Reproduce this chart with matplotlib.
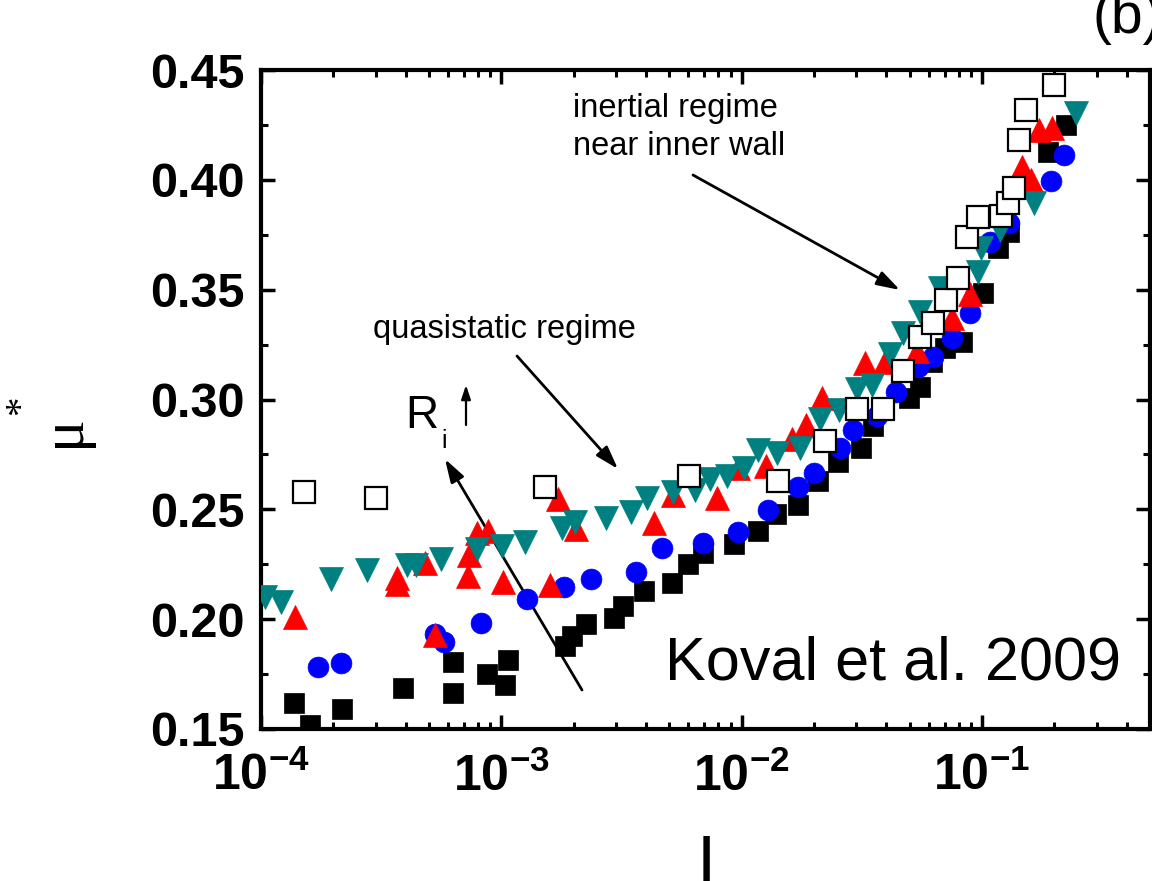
import numpy as np
import matplotlib
matplotlib.use("Agg")
import matplotlib.pyplot as plt
from matplotlib import ticker

plt.rcParams['font.family'] = ['Liberation Sans', 'DejaVu Sans']
plt.rcParams['mathtext.fontset'] = 'custom'
plt.rcParams['mathtext.rm'] = 'Liberation Sans'
plt.rcParams['mathtext.bf'] = 'Liberation Sans:bold'
plt.rcParams['mathtext.it'] = 'Liberation Sans:italic'

# ---------------- data ----------------
black_I = [1.371e-4, 1.60e-4, 2.17e-4, 3.89e-4, 6.28e-4, 6.28e-4, 8.70e-4, 1.034e-3, 1.064e-3,
           1.837e-3, 1.964e-3, 2.246e-3, 2.937e-3, 3.201e-3, 3.913e-3, 5.116e-3, 5.965e-3,
           6.883e-3, 9.26e-3, 1.1655e-2, 1.385e-2, 1.709e-2, 2.070e-2, 2.507e-2, 3.125e-2,
           3.505e-2, 3.857e-2, 4.949e-2, 5.497e-2, 6.166e-2, 6.985e-2, 8.218e-2, 0.1005,
           0.1160, 0.1301, 0.1873, 0.2246]
black_mu = [0.1619, 0.1518, 0.1591, 0.1687, 0.1805, 0.1664, 0.1751, 0.1701, 0.1815,
            0.1878, 0.1924, 0.1979, 0.2006, 0.2061, 0.2129, 0.2166, 0.2252,
            0.2302, 0.2343, 0.2403, 0.2480, 0.2521, 0.2631, 0.2717, 0.2777,
            0.2881, 0.2950, 0.3009, 0.3055, 0.3169, 0.3233, 0.3260, 0.3483,
            0.3688, 0.3761, 0.4126, 0.4249]

blue_I = [1.726e-4, 2.150e-4, 5.29e-4, 5.77e-4, 8.22e-4, 1.276e-3, 1.819e-3, 2.356e-3,
          3.625e-3, 4.650e-3, 6.883e-3, 9.62e-3, 1.2827e-2, 1.709e-2, 1.993e-2, 2.556e-2,
          2.894e-2, 3.641e-2, 4.369e-2, 5.394e-2, 6.225e-2, 7.469e-2, 8.872e-2, 0.1075,
          0.1301, 0.1945, 0.2203]
blue_mu = [0.1783, 0.1801, 0.1933, 0.1897, 0.1983, 0.2093, 0.2147, 0.2184,
           0.2216, 0.2325, 0.2348, 0.2398, 0.2498, 0.2603, 0.2667, 0.2781,
           0.2859, 0.2923, 0.3036, 0.3146, 0.3192, 0.3278, 0.3392, 0.3716,
           0.3802, 0.3994, 0.4113]

red_I = [1.385e-4, 3.678e-4, 3.678e-4, 4.808e-4, 5.29e-4, 7.26e-4, 7.33e-4, 7.91e-4,
         8.79e-4, 1.0144e-3, 1.591e-3, 1.718e-3, 2.041e-3, 4.306e-3, 5.166e-3, 7.870e-3,
         9.62e-3, 1.2585e-2, 1.614e-2, 1.846e-2, 2.151e-2, 3.247e-2, 3.932e-2, 5.343e-2,
         7.469e-2, 8.872e-2, 0.1460, 0.1606, 0.1734, 0.1964]
red_mu = [0.2011, 0.2188, 0.2161, 0.2257, 0.1929, 0.2198, 0.2293, 0.2394,
          0.2403, 0.2170, 0.2157, 0.2549, 0.2412, 0.2439, 0.2567, 0.2553,
          0.2690, 0.2699, 0.2822, 0.2886, 0.3005, 0.3164, 0.3169, 0.3223,
          0.3369, 0.3479, 0.4058, 0.3999, 0.4226, 0.4236]

teal_I = [1.039e-4, 1.211e-4, 1.955e-4, 2.759e-4, 4.046e-4, 4.411e-4, 5.603e-4, 7.91e-4,
          1.0048e-3, 1.252e-3, 1.785e-3, 2.021e-3, 2.720e-3, 3.455e-3, 4.027e-3, 5.166e-3,
          6.377e-3, 7.361e-3, 8.664e-3, 1.0193e-2, 1.1655e-2, 1.398e-2, 1.743e-2, 2.110e-2,
          2.531e-2, 3.008e-2, 3.472e-2, 4.125e-2, 4.671e-2, 5.497e-2, 6.658e-2, 9.58e-2,
          9.95e-2, 0.1183, 0.1653, 0.2471]
teal_mu = [0.2102, 0.2079, 0.2184, 0.2225, 0.2248, 0.2248, 0.2275, 0.2321,
           0.2334, 0.2353, 0.2416, 0.2444, 0.2462, 0.2489, 0.2553, 0.2581,
           0.2590, 0.2640, 0.2654, 0.2690, 0.2772, 0.2758, 0.2781, 0.2913,
           0.2950, 0.3050, 0.3064, 0.3205, 0.3301, 0.3397, 0.3506, 0.3579,
           0.3688, 0.3771, 0.3894, 0.4304]

open_I = [1.509e-4, 3.008e-4, 1.517e-3, 6.022e-3, 1.411e-2, 2.214e-2, 3.008e-2, 3.857e-2,
          4.671e-2, 5.497e-2, 6.225e-2, 7.05e-2, 7.91e-2, 8.70e-2, 9.58e-2, 0.1205,
          0.1277, 0.1365, 0.1432, 0.1531, 0.2002]
open_mu = [0.2581, 0.2553, 0.2603, 0.2654, 0.2631, 0.2813, 0.2959, 0.2959,
           0.3128, 0.3283, 0.3347, 0.3451, 0.3552, 0.3739, 0.3830, 0.3834,
           0.3894, 0.3962, 0.4181, 0.4318, 0.4432]

y_ticks = [0.15, 0.20, 0.25, 0.30, 0.35, 0.40, 0.45]

# ---------------- figure ----------------
W, H = 1152, 881
fig = plt.figure(figsize=(W / 100, H / 100), dpi=100)


def fx(px):
    return px / W


def fy(py):
    return 1 - py / H


ax = fig.add_axes([fx(261), fy(729), fx(1150) - fx(261), fy(70) - fy(729)])
ax.set_xscale('log')
ax.set_xlim(1e-4, 0.5)
ax.set_ylim(0.15, 0.45)

ax.plot(black_I, black_mu, ls='none', marker='s', ms=14, mfc='black', mec='black', mew=0.5, zorder=3)
ax.plot(blue_I, blue_mu, ls='none', marker='o', ms=15, mfc='#0000ff', mec='#0000ff', mew=0.5, zorder=4)
ax.plot(red_I, red_mu, ls='none', marker='^', ms=17, mfc='#ff0000', mec='#ff0000', mew=0.5, zorder=5)
ax.plot(teal_I, teal_mu, ls='none', marker='v', ms=17, mfc='#008080', mec='#008080', mew=0.5, zorder=6)
ax.plot(open_I, open_mu, ls='none', marker='s', ms=15.5, mfc='white', mec='black', mew=1.6, zorder=7)

# axes styling
for s in ax.spines.values():
    s.set_linewidth(3)
ax.set_yticks(y_ticks)
ax.yaxis.set_minor_locator(ticker.MultipleLocator(0.025))
ax.yaxis.set_major_formatter(ticker.FormatStrFormatter('%.2f'))
ax.xaxis.set_major_locator(ticker.LogLocator(base=10, numticks=10))
ax.xaxis.set_minor_locator(ticker.LogLocator(base=10, subs=np.arange(2, 10), numticks=20))
ax.xaxis.set_minor_formatter(ticker.NullFormatter())
ax.xaxis.set_major_formatter(ticker.FuncFormatter(
    lambda v, p: r'$\mathbf{10^{%d}}$' % int(round(np.log10(v)))))

ax.tick_params(which='both', direction='in', top=True, right=True)
ax.tick_params(which='major', length=10, width=2.5)
ax.tick_params(which='minor', length=5, width=2.2)
ax.tick_params(axis='y', which='major', labelsize=35, pad=12)
ax.tick_params(axis='x', which='major', labelsize=36, pad=17)
for lab in ax.get_yticklabels():
    lab.set_fontweight('bold')

# axis labels
fig.text(fx(64), fy(431), 'μ', rotation=90, ha='center', va='center',
         fontsize=44, family=['Liberation Serif', 'DejaVu Serif'])
fig.text(fx(22), fy(405), '*', rotation=90, ha='center', va='center',
         fontsize=28, family=['Liberation Serif', 'DejaVu Serif'])
fig.text(fx(706), fy(883), 'I', ha='center', va='baseline', fontsize=50)

# panel label (cut off at the top in the original)
fig.text(fx(1093), fy(33), '(b)', ha='left', va='baseline', fontsize=41)

# annotations
fig.text(fx(573), fy(117), 'inertial regime', ha='left', va='baseline', fontsize=23.5)
fig.text(fx(573), fy(155), 'near inner wall', ha='left', va='baseline', fontsize=23.5)
fig.text(fx(373), fy(338), 'quasistatic regime', ha='left', va='baseline', fontsize=23.5)
fig.text(fx(665), fy(680), 'Koval et al. 2009', ha='left', va='baseline', fontsize=44)
fig.text(fx(405), fy(428), 'R', ha='left', va='baseline', fontsize=33)
fig.text(fx(441), fy(448), 'i', ha='left', va='baseline', fontsize=18)

arrow_kw = dict(arrowstyle='-|>,head_length=0.7,head_width=0.22', lw=2.0, color='black',
                shrinkA=0, shrinkB=0, mutation_scale=20)
ax.annotate('', xy=(fx(900), fy(290)), xycoords='figure fraction',
            xytext=(fx(693), fy(175)), textcoords='figure fraction', arrowprops=arrow_kw)
ax.annotate('', xy=(fx(618), fy(469)), xycoords='figure fraction',
            xytext=(fx(517), fy(356)), textcoords='figure fraction', arrowprops=arrow_kw)
ax.annotate('', xy=(fx(445), fy(459)), xycoords='figure fraction',
            xytext=(fx(582), fy(690)), textcoords='figure fraction', arrowprops=arrow_kw)
ax.annotate('', xy=(fx(466), fy(385)), xycoords='figure fraction',
            xytext=(fx(466), fy(425)), textcoords='figure fraction',
            arrowprops=dict(arrowstyle='-|>,head_length=0.6,head_width=0.2', lw=1.6,
                            color='black', shrinkA=0, shrinkB=0, mutation_scale=14))

fig.savefig('out.png', dpi=100)
